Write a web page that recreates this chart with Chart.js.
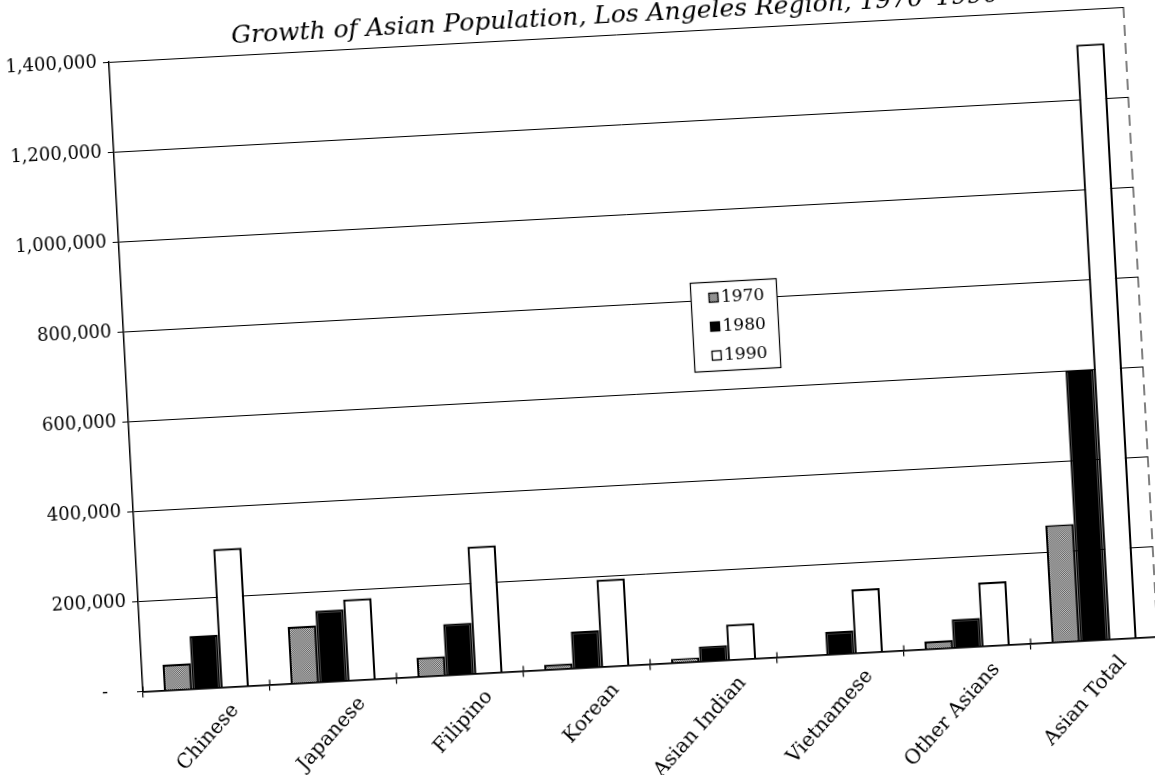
<!DOCTYPE html>
<html>
<head>
<meta charset="utf-8">
<script src="https://cdn.jsdelivr.net/npm/chart.js@4.4.1/dist/chart.umd.min.js"></script>
<style>
  html, body { margin: 0; padding: 0; background: #fff; overflow: hidden; width: 1155px; height: 775px; }
  #c { position: absolute; left: 0; top: 0; }
</style>
</head>
<body>
<canvas id="c" width="1160" height="840"></canvas>
<script>
// Asian population of the Los Angeles region by group, 1970 / 1980 / 1990
const categories = ['Chinese', 'Japanese', 'Filipino', 'Korean', 'Asian Indian', 'Vietnamese', 'Other Asians', 'Asian Total'];
const years = ['1970', '1980', '1990'];
const pop1970 = [57000, 126000, 42000, 11000, 9000, 0, 17000, 260000];
const pop1980 = [117000, 158000, 113000, 81000, 33000, 50000, 63000, 601000];
const pop1990 = [307000, 180000, 282000, 193000, 78000, 141000, 141000, 1322000];
const yMax = 1400000;
const yStep = 200000;
const titleText = 'Growth of Asian Population, Los Angeles Region, 1970\u20131990';

const SERIF = "'DejaVu Serif', 'Liberation Serif', serif";

// halftone-style grey fill for the 1970 series
function halftone() {
  const p = document.createElement('canvas');
  p.width = 2; p.height = 2;
  const g = p.getContext('2d');
  g.fillStyle = '#c4c4c4'; g.fillRect(0, 0, 2, 2);
  g.fillStyle = '#5e5e5e'; g.fillRect(0, 0, 1, 1); g.fillRect(1, 1, 1, 1);
  return g.createPattern(p, 'repeat');
}
const ctx = document.getElementById('c').getContext('2d');
const grey = halftone();

const fills = [grey, '#000000', '#ffffff'];
const series = [pop1970, pop1980, pop1990];

// boxed legend sitting inside the plot, plus small upward ticks and dashed right edge
const framePlugin = {
  id: 'frame',
  afterDatasetsDraw(chart) {
    const { ctx, chartArea: a } = chart;
    const W = a.right - a.left, H = a.bottom - a.top;
    ctx.save();
    // category tick marks crossing the axis line
    ctx.strokeStyle = '#000'; ctx.lineWidth = 1.2;
    for (let i = 0; i <= categories.length; i++) {
      const x = a.left + i * W / categories.length;
      ctx.beginPath(); ctx.moveTo(x, a.bottom - 5); ctx.lineTo(x, a.bottom); ctx.stroke();
    }
    // right edge of the plot
    ctx.setLineDash([11, 7]);
    ctx.lineWidth = 1;
    ctx.beginPath(); ctx.moveTo(a.right, a.top); ctx.lineTo(a.right, a.bottom); ctx.stroke();
    ctx.setLineDash([]);
    // legend
    const bw = 86, rowH = 29, bh = rowH * 3 + 2;
    const cx = a.left + 0.601 * W, cy = a.top + 0.47 * H;
    const bx = Math.round(cx - bw / 2) + 0.5, by = Math.round(cy - bh / 2) + 0.5;
    ctx.fillStyle = '#fff';
    ctx.fillRect(bx, by, bw, bh);
    ctx.strokeStyle = '#000'; ctx.lineWidth = 1.2;
    ctx.strokeRect(bx, by, bw, bh);
    ctx.font = '17px ' + SERIF;
    ctx.textBaseline = 'middle';
    ctx.textAlign = 'left';
    chart.data.datasets.forEach((ds, i) => {
      const ry = by + 1 + rowH * i + rowH / 2;
      const mx = bx + 18, ms = 9;
      ctx.fillStyle = ds.backgroundColor;
      ctx.fillRect(mx, ry - ms / 2, ms, ms);
      ctx.strokeStyle = '#000'; ctx.lineWidth = 1.3;
      ctx.strokeRect(mx, ry - ms / 2, ms, ms);
      ctx.fillStyle = '#000';
      ctx.fillText(ds.label, mx + ms + 3, ry + 1);
    });
    ctx.restore();
  }
};

const chart = new Chart(ctx, {
  type: 'bar',
  data: {
    labels: categories,
    datasets: years.map((y, i) => ({
      label: y,
      data: series[i],
      backgroundColor: fills[i],
      borderColor: '#000',
      borderWidth: 2.2,
      borderSkipped: 'bottom',
      barPercentage: 1,
      categoryPercentage: 0.67
    }))
  },
  options: {
    responsive: false,
    devicePixelRatio: 1,
    animation: false,
    layout: { padding: { left: 10, right: 24, top: 20, bottom: 0 } },
    plugins: {
      legend: { display: false },
      tooltip: { enabled: false },
      title: {
        display: true,
        text: titleText,
        fullSize: false,
        color: '#000',
        font: { family: SERIF, size: 25, style: 'italic', weight: 'normal' },
        padding: { top: 4, bottom: 4 }
      }
    },
    scales: {
      x: {
        offset: true,
        grid: { display: true, drawOnChartArea: false, drawTicks: true, tickLength: 6, color: '#000', lineWidth: 1.2, offset: true },
        border: { display: true, color: '#000', width: 1.8 },
        ticks: {
          color: '#000', autoSkip: false, minRotation: 45, maxRotation: 45,
          labelOffset: 28, padding: 6,
          font: { family: SERIF, size: 20 }
        },
        afterFit(s) { s.height = 151.5; }
      },
      y: {
        min: 0, max: yMax,
        grid: { color: '#000', lineWidth: 1, drawTicks: true, tickLength: 6 },
        border: { display: true, color: '#000', width: 1.5 },
        ticks: {
          stepSize: yStep, color: '#000', padding: 6,
          font: { family: SERIF, size: 18 },
          callback: v => v === 0 ? '-\u2007\u2007' : Number(v).toLocaleString('en-US')
        },
        afterFit(s) { s.width = 110; }
      }
    }
  },
  plugins: [framePlugin]
});

// tilt the whole chart about the origin of its plot area
const a = chart.chartArea;
const cv = document.getElementById('c');
cv.style.left = (143.3 - a.left) + 'px';
cv.style.top = (691.7 - a.bottom) + 'px';
cv.style.transformOrigin = a.left + 'px ' + a.bottom + 'px';
cv.style.transform = 'rotate(-3.1deg)';
</script>
</body>
</html>
